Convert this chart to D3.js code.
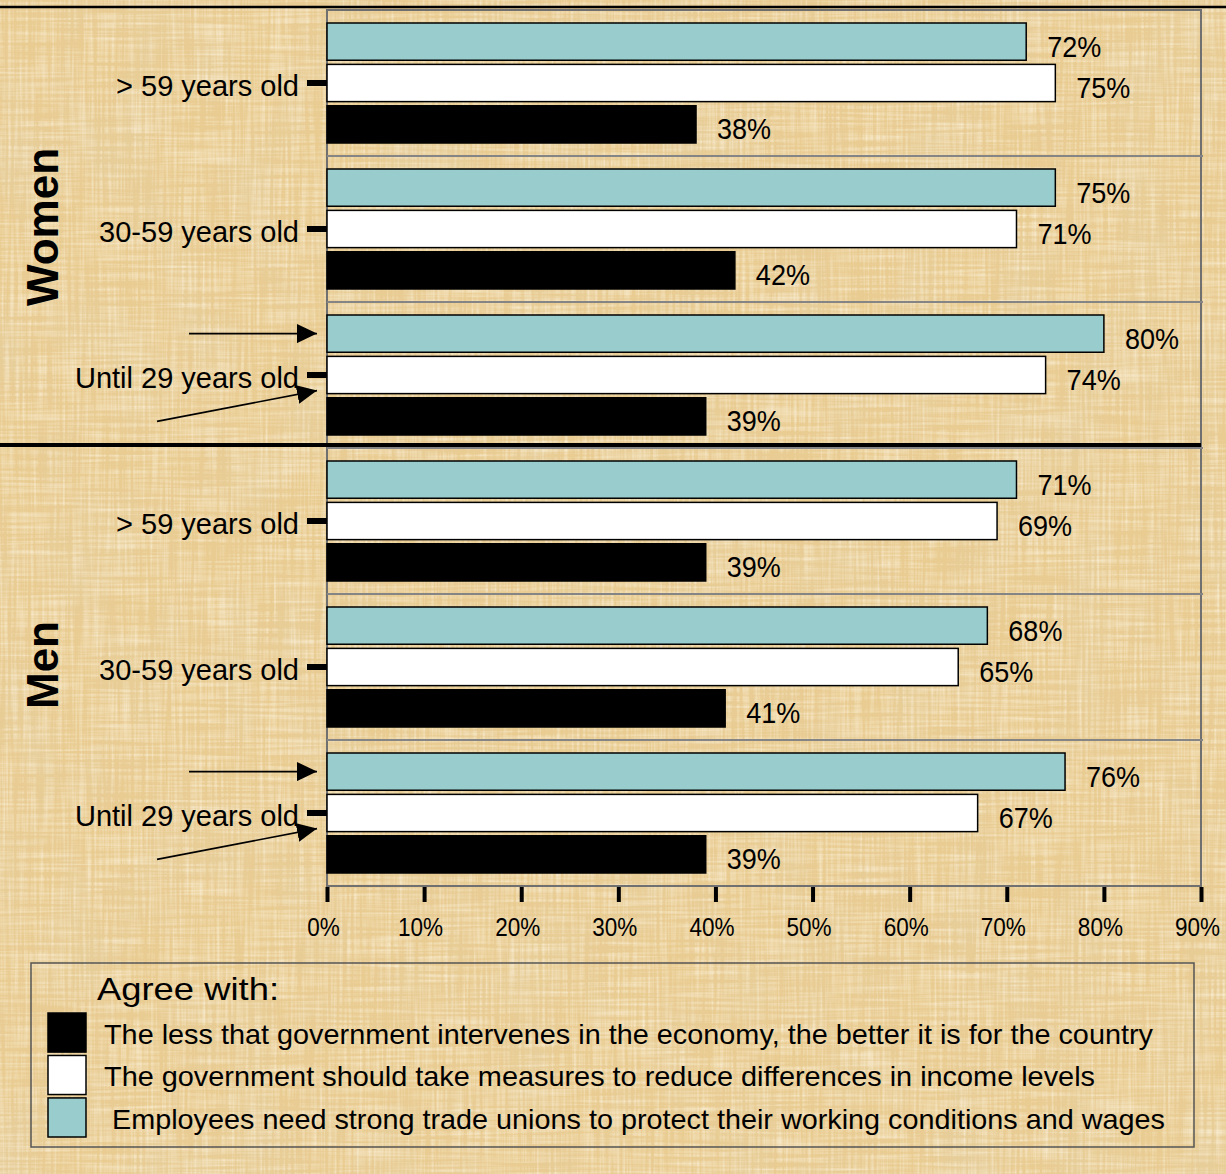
<!DOCTYPE html>
<html>
<head>
<meta charset="utf-8">
<script src="https://cdn.jsdelivr.net/npm/d3@7"></script>
<style>
  html, body { margin: 0; padding: 0; background: #e7c98e; }
  svg { display: block; font-family: "Liberation Sans", Arial, sans-serif; }
</style>
</head>
<body>
<svg id="chart" width="1226" height="1174"></svg>
<script>
// ---- data ---------------------------------------------------------------
const groups = ["Women", "Men"];
const ageLabels = ["> 59 years old", "30-59 years old", "Until 29 years old"];

const seriesKeys = ["lessGov", "income", "unions"];
const seriesLabels = [
  "The less that government intervenes in the economy, the better it is for the country",
  "The government should take measures to reduce differences in income levels",
  " Employees need strong trade unions to protect their working conditions and wages"
];
const seriesColors = ["#000000", "#ffffff", "#99cccc"];
const legendTitle = "Agree with:";

// rows: Women >59, Women 30-59, Women <30, Men >59, Men 30-59, Men <30
const lessGov = [38, 42, 39, 39, 41, 39];
const income  = [75, 71, 74, 69, 65, 67];
const unions  = [72, 75, 80, 71, 68, 76];

const xTicks = [0, 10, 20, 30, 40, 50, 60, 70, 80, 90];

// ---- setup --------------------------------------------------------------
const W = 1226, H = 1174;
const svg = d3.select("#chart");
const valuesByKey = { lessGov, income, unions };
const colorByKey = Object.fromEntries(seriesKeys.map((k, i) => [k, seriesColors[i]]));

const rows = groups.flatMap(g => ageLabels.map(a => ({ group: g, age: a, key: g + "|" + a })));
rows.forEach((r, i) => { seriesKeys.forEach(k => r[k] = valuesByKey[k][i]); });
const rowByKey = new Map(rows.map(r => [r.key, r]));

const x = d3.scaleLinear().domain([0, 90]).range([327, 1201]);
const y = d3.scaleBand().domain(rows.map(r => r.key)).range([10, 886]);
// inside each row the trade-union bar is on top, the small-government bar at the bottom
const yInner = d3.scaleBand()
  .domain(seriesKeys.slice().reverse())
  .range([13, y.bandwidth() - 13])
  .paddingInner(0.1);
const bw = yInner.bandwidth();

// ---- papyrus background ---------------------------------------------------
const defs = svg.append("defs");
const fib = defs.append("filter").attr("id", "fibres")
  .attr("x", 0).attr("y", 0).attr("width", "100%").attr("height", "100%");
fib.append("feTurbulence").attr("type", "fractalNoise").attr("baseFrequency", "0.35 0.012")
  .attr("numOctaves", 2).attr("seed", 4).attr("result", "vf");
fib.append("feTurbulence").attr("type", "fractalNoise").attr("baseFrequency", "0.012 0.35")
  .attr("numOctaves", 2).attr("seed", 9).attr("result", "hf");
fib.append("feComposite").attr("in", "vf").attr("in2", "hf").attr("operator", "arithmetic")
  .attr("k1", 0).attr("k2", 0.5).attr("k3", 0.5).attr("k4", 0).attr("result", "mix");
fib.append("feColorMatrix").attr("in", "mix").attr("type", "matrix")
  .attr("values", "0 0 0 0 1  0 0 0 0 0.95  0 0 0 0 0.82  1.7 0 0 0 -0.72");

const blot = defs.append("filter").attr("id", "blotches")
  .attr("x", 0).attr("y", 0).attr("width", "100%").attr("height", "100%");
blot.append("feTurbulence").attr("type", "fractalNoise").attr("baseFrequency", "0.018 0.01")
  .attr("numOctaves", 3).attr("seed", 2);
blot.append("feColorMatrix").attr("type", "matrix")
  .attr("values", "0 0 0 0 0.78  0 0 0 0 0.62  0 0 0 0 0.36  1.1 0 0 0 -0.45");

svg.append("rect").attr("width", W).attr("height", H).attr("fill", "#e9cc92");
svg.append("rect").attr("width", W).attr("height", H).attr("filter", "url(#blotches)");
svg.append("rect").attr("width", W).attr("height", H).attr("filter", "url(#fibres)");

// ---- plot frame and row separators ----------------------------------------
const frame = svg.append("g");
frame.append("rect")
  .attr("x", x(0)).attr("y", y.range()[0])
  .attr("width", x(90) - x(0)).attr("height", y.range()[1] - y.range()[0])
  .attr("fill", "none").attr("stroke", "#707070").attr("stroke-width", 2);
frame.selectAll("line.sep").data(rows.slice(1)).join("line")
  .attr("class", "sep")
  .attr("x1", x(0)).attr("x2", x(90) + 2)
  .attr("y1", d => y(d.key)).attr("y2", d => y(d.key))
  .attr("stroke", "#858585").attr("stroke-width", 2);

// heavy rules above each gender block
groups.forEach((g, gi) => {
  const first = rows.find(r => r.group === g);
  const yy = y(first.key) - 3;
  svg.append("line")
    .attr("x1", 0).attr("x2", gi === 0 ? W : x(90))
    .attr("y1", yy).attr("y2", yy)
    .attr("stroke", "#000").attr("stroke-width", gi === 0 ? 2.5 : 4);
});

// ---- bars ---------------------------------------------------------------------
const barOrder = ["unions", "income", "lessGov"];
const bars = svg.append("g");
barOrder.forEach(k => {
  bars.selectAll(null).data(rows).join("rect")
    .attr("x", x(0))
    .attr("y", d => y(d.key) + yInner(k))
    .attr("width", d => x(d[k]) - x(0))
    .attr("height", bw)
    .attr("fill", colorByKey[k])
    .attr("stroke", "#000").attr("stroke-width", 1.5);
});

// value labels
const labels = svg.append("g").attr("font-size", 30).attr("fill", "#000");
barOrder.forEach(k => {
  labels.selectAll(null).data(rows).join("text")
    .attr("x", d => x(d[k]) + 21)
    .attr("y", d => y(d.key) + yInner(k) + bw / 2 + 15)
    .text(d => d[k] + "%");
});
labels.selectAll("text").each(function () {
  this.setAttribute("textLength", this.getComputedTextLength() * 0.9);
  this.setAttribute("lengthAdjust", "spacingAndGlyphs");
});

// ---- axes ---------------------------------------------------------------------
const yAxis = d3.axisLeft(y).tickSize(20).tickPadding(8)
  .tickFormat(k => rowByKey.get(k).age);
const gy = svg.append("g").attr("transform", `translate(${x(0)},0)`).call(yAxis);
gy.select(".domain").remove();
gy.selectAll(".tick line").attr("stroke", "#000").attr("stroke-width", 6);
gy.selectAll(".tick text")
  .attr("font-family", "Liberation Sans, Arial, sans-serif")
  .attr("font-size", 29).attr("fill", "#000").attr("dy", "0.46em");

const xAxis = d3.axisBottom(x).tickValues(xTicks).tickSize(15).tickPadding(16)
  .tickFormat(d => d + "%");
const gx = svg.append("g").attr("transform", `translate(0,${y.range()[1] + 1})`).call(xAxis);
gx.select(".domain").remove();
gx.selectAll(".tick line").attr("stroke", "#000").attr("stroke-width", 4);
gx.selectAll(".tick text")
  .attr("font-family", "Liberation Sans, Arial, sans-serif")
  .attr("font-size", 25).attr("fill", "#000").attr("dx", -4)
  .each(function () {
    this.setAttribute("textLength", this.getComputedTextLength() * 0.9);
    this.setAttribute("lengthAdjust", "spacingAndGlyphs");
  });

// gender captions
groups.forEach(g => {
  const gr = rows.filter(r => r.group === g);
  const cy = (y(gr[0].key) + y(gr[gr.length - 1].key) + y.bandwidth()) / 2 - 2;
  svg.append("text")
    .attr("transform", `translate(58,${cy}) rotate(-90)`)
    .attr("text-anchor", "middle")
    .attr("font-size", 44).attr("font-weight", "bold")
    .text(g);
});

// ---- arrows pointing at the youngest age group ------------------------------
defs.append("marker").attr("id", "head")
  .attr("markerUnits", "userSpaceOnUse")
  .attr("markerWidth", 20).attr("markerHeight", 19)
  .attr("refX", 20).attr("refY", 9.5).attr("orient", "auto")
  .append("path").attr("d", "M0,0 L20,9.5 L0,19 Z").attr("fill", "#000");

const arrows = svg.append("g").attr("stroke", "#000").attr("stroke-width", 1.6);
rows.filter(r => r.age === ageLabels[2]).forEach(r => {
  const top = y(r.key);
  const tipX = x(0) - 10;
  arrows.append("line")
    .attr("x1", x(0) - 138).attr("x2", tipX)
    .attr("y1", top + yInner("unions") + bw / 2).attr("y2", top + yInner("unions") + bw / 2)
    .attr("marker-end", "url(#head)");
  arrows.append("line")
    .attr("x1", x(0) - 170).attr("y1", top + yInner("lessGov") + bw / 2 + 5)
    .attr("x2", tipX).attr("y2", top + yInner("income") + bw - 3)
    .attr("marker-end", "url(#head)");
});

// ---- legend -------------------------------------------------------------------
const legend = svg.append("g");
legend.append("rect")
  .attr("x", 31).attr("y", 963).attr("width", 1163).attr("height", 184)
  .attr("fill", "none").attr("stroke", "#555").attr("stroke-width", 1.5);
legend.append("text")
  .attr("x", 97).attr("y", 1000)
  .attr("font-size", 32)
  .attr("textLength", 182).attr("lengthAdjust", "spacingAndGlyphs")
  .text(legendTitle);

const legendLengths = [1049, 991, 1061];
const legendRow = d3.scaleBand().domain(seriesKeys).range([1013, 1137]).paddingInner(0.08);
seriesKeys.forEach((k, i) => {
  const yy = legendRow(k);
  legend.append("rect")
    .attr("x", 48).attr("y", yy).attr("width", 38).attr("height", legendRow.bandwidth())
    .attr("fill", seriesColors[i]).attr("stroke", "#000").attr("stroke-width", 1.5);
  legend.append("text")
    .attr("x", 104).attr("y", yy + 31)
    .attr("font-size", 28)
    .style("white-space", "pre")
    .attr("textLength", legendLengths[i]).attr("lengthAdjust", "spacingAndGlyphs")
    .text(seriesLabels[i]);
});
</script>
</body>
</html>
